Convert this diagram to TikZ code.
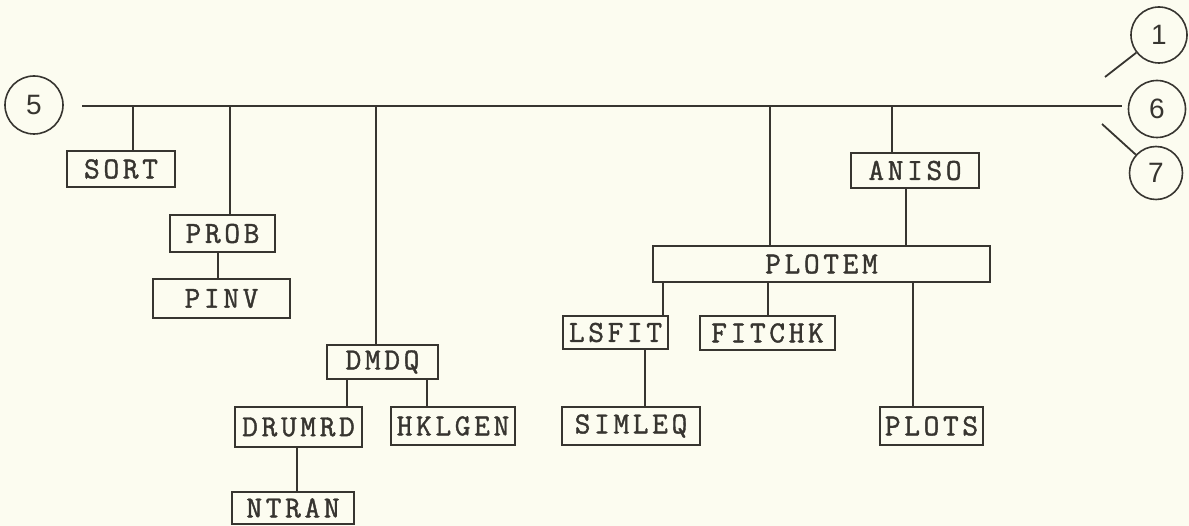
\documentclass[tikz,border=0pt]{standalone}
\usepackage{fontspec}
\newfontfamily\boxfont[LetterSpace=12,FakeBold=1.3]{Latin Modern Mono}
\newfontfamily\numfont{Liberation Sans}
\definecolor{paper}{RGB}{252,252,240}
\definecolor{ink}{RGB}{55,53,48}
\begin{document}
\begin{tikzpicture}[x=1pt,y=-1pt,
  line/.style={draw=ink,line width=1.8pt},
  modbox/.style={draw=ink,line width=1.8pt,inner sep=0pt,text=ink,font=\boxfont\fontsize{30.5}{32}\selectfont},
  refcirc/.style={draw=ink,line width=1.6pt,circle,inner sep=0pt,text=ink,font=\numfont\fontsize{28}{30}\selectfont}]
\fill[paper] (0,0) rectangle (1189,526);
\useasboundingbox (0,0) rectangle (1189,526);
% circles
\node[refcirc,minimum size=58pt] (c5) at (34,105) {5};
\node[refcirc,minimum size=56pt] (c1) at (1159,35) {1};
\node[refcirc,minimum size=57pt] (c6) at (1157,109) {6};
\node[refcirc,minimum size=53pt] (c7) at (1156,173) {7};
% boxes
\node[modbox,minimum width=108pt,minimum height=36pt] (sort) at (121,169) {SORT};
\node[modbox,minimum width=105pt,minimum height=37pt] (prob) at (222.5,233.5) {PROB};
\node[modbox,minimum width=137pt,minimum height=39pt] (pinv) at (221.5,298.5) {PINV};
\node[modbox,minimum width=111pt,minimum height=34pt] (dmdq) at (382.5,362) {DMDQ};
\node[modbox,minimum width=127pt,minimum height=40pt] (drumrd) at (298.5,427) {DRUMRD};
\node[modbox,minimum width=124pt,minimum height=38pt] (hklgen) at (453,426) {HKLGEN};
\node[modbox,minimum width=122pt,minimum height=32pt] (ntran) at (293,508) {NTRAN};
\node[modbox,minimum width=337pt,minimum height=36pt] (plotem) at (821.5,264) {PLOTEM};
\node[modbox,minimum width=128pt,minimum height=35pt] (aniso) at (915,170.5) {ANISO};
\node[modbox,minimum width=105pt,minimum height=33pt] (lsfit) at (615.5,332.5) {LSFIT};
\node[modbox,minimum width=135pt,minimum height=34pt] (fitchk) at (767.5,333) {FITCHK};
\node[modbox,minimum width=138pt,minimum height=38pt] (simleq) at (631,426) {SIMLEQ};
\node[modbox,minimum width=103pt,minimum height=38pt] (plots) at (931.5,426) {PLOTS};
% bus
\coordinate (busL) at (82,106);
\coordinate (busR) at (1122,106);
\draw[line] (busL) -- (busR);
\coordinate (j1) at (133,106);
\coordinate (j2) at (230,106);
\coordinate (j3) at (376,106);
\coordinate (j4) at (770,106);
\coordinate (j5) at (892,106);
\draw[line] (j1) -- (j1 |- sort.north);
\draw[line] (j2) -- (j2 |- prob.north);
\draw[line] (j3) -- (j3 |- dmdq.north);
\draw[line] (j4) -- (j4 |- plotem.north);
\draw[line] (j5) -- (j5 |- aniso.north);
% sub connectors
\draw[line] ([xshift=-4.5pt]prob.south) -- ([xshift=-4.5pt]prob.south |- pinv.north);
\draw[line] ([xshift=-35.5pt]dmdq.south) -- ([xshift=-35.5pt]dmdq.south |- drumrd.north);
\draw[line] ([xshift=44.5pt]dmdq.south) -- ([xshift=44.5pt]dmdq.south |- hklgen.north);
\draw[line] ([xshift=-1.5pt]drumrd.south) -- ([xshift=-1.5pt]drumrd.south |- ntran.north);
\draw[line] ([xshift=-9pt]aniso.south) -- ([xshift=-9pt]aniso.south |- plotem.north);
\draw[line] ([xshift=47.5pt]lsfit.north |- plotem.south) -- ([xshift=47.5pt]lsfit.north);
\draw[line] ([xshift=0.5pt]fitchk.north |- plotem.south) -- ([xshift=0.5pt]fitchk.north);
\draw[line] ([xshift=-18.5pt]plots.north |- plotem.south) -- ([xshift=-18.5pt]plots.north);
\draw[line] ([xshift=29.5pt]lsfit.south) -- ([xshift=29.5pt]lsfit.south |- simleq.north);
% circle leaders
\coordinate (t1) at (1105,77);
\coordinate (t7) at (1102,124);
\draw[line] (t1) -- (c1);
\draw[line] (t7) -- (c7);
\end{tikzpicture}
\end{document}
